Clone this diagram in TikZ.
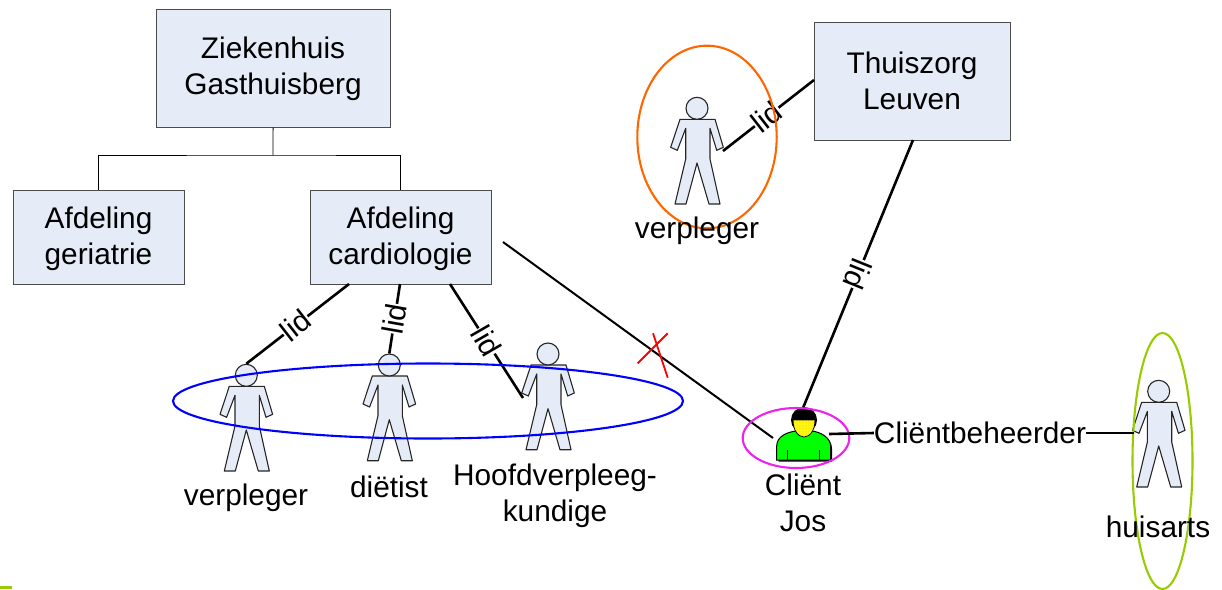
\documentclass[tikz,border=0pt]{standalone}
\usepackage{fontspec}
\setmainfont{Liberation Sans}
\usetikzlibrary{patterns}
\definecolor{boxfill}{HTML}{E6ECF7}
\definecolor{limeline}{HTML}{99CC00}
\definecolor{orangeline}{HTML}{FF6600}
\definecolor{magline}{HTML}{EE22EE}
\tikzset{
  x=1pt,y=-1pt,
  every node/.style={font=\fontsize{29.8}{35.5}\selectfont,align=center,inner sep=0pt},
  orgbox/.style={draw=black!70,line width=1.1pt,fill=boxfill,minimum width=#1,minimum height=94pt,anchor=north west},
  orgline/.style={draw=black,line width=.9pt},
  conn/.style={draw=black,line width=2.6pt},
  lidlabel/.style={fill=white,inner xsep=0pt,inner ysep=-4pt,midway},
  oval/.style={draw=#1,line width=2.1pt},
  headnode/.style={circle,draw=black!85,line width=1.1pt,fill=boxfill,minimum size=22pt},
  person/.pic={
    \draw[black!85,line width=1.1pt,fill=boxfill,line join=round]
      (-17,11) -- (18,11) -- (26.3,39) -- (19.7,42) -- (13,20) -- (13,50.7) -- (23,95.7) -- (12,95.7)
      -- (0,54.7) -- (-11,95.7) -- (-22,95.7) -- (-11.3,50.7) -- (-11.3,20) -- (-19.7,42) -- (-26.3,39) -- cycle;
  }
}
\begin{document}
\begin{tikzpicture}
\useasboundingbox (0,0) rectangle (1222,589);
\fill[white] (0,0) rectangle (1222,589);
% boxes
\node[orgbox=234pt,minimum height=118pt] (zh) at (155.5,8.5) {};
\node at (273,69) {Ziekenhuis\\Gasthuisberg};
\node[orgbox=171pt] (ger) at (12.5,189.5) {};
\node at (98.5,239) {Afdeling\\geriatrie};
\node[orgbox=181pt] (card) at (309.5,189.5) {};
\node at (400.5,239) {Afdeling\\cardiologie};
\node[orgbox=196pt,minimum height=118pt] (tz) at (813.5,21.5) {};
\node at (912,81) {Thuiszorg\\Leuven};
% org tree
\coordinate (fork) at (273,155);
\draw[orgline] (zh.south) -- (fork);
\draw[orgline] (ger.north) |- (fork) -| (card.north);
% persons
\foreach \n/\px/\py in {1/246.3/375.3,2/389.3/365,3/548/354,4/697/108.3,5/1158.7/391.3}{
  \path (\px,\py) pic {person};
  \node[headnode] (h\n) at (\px,\py) {};
}
% free ends
\coordinate (c1) at (349,284);
\coordinate (c2) at (400,284);
\coordinate (c3) at (450,284);
\coordinate (e3) at (523,398);
\coordinate (c4) at (814,80);
\coordinate (e4) at (723,151);
\coordinate (c5) at (913,140);
\coordinate (e5) at (803,408);
\coordinate (c6) at (503,242);
\coordinate (e6) at (773,438);
\coordinate (c7) at (829,434);
\coordinate (e7) at (1134,433);
% connectors
\draw[conn] (c1) -- (h1.north) node[lidlabel,rotate=38,pos=.52] {lid};
\draw[conn] (c2) -- (h2.north) node[lidlabel,rotate=80,pos=.5] {lid};
\draw[conn] (c3) -- (e3) node[lidlabel,rotate=-60,pos=.5] {lid};
\draw[conn] (c4) -- (e4) node[lidlabel,rotate=38,pos=.52] {lid};
\draw[conn] (c5) -- (e5) node[lidlabel,rotate=248,pos=.5] {lid};
\draw[draw=black,line width=2pt] (c6) -- (e6);
% red cross
\coordinate (x1) at (637.7,363.3);
\coordinate (x2) at (667.7,333.3);
\coordinate (x3) at (653,333.3);
\coordinate (x4) at (667.7,377.7);
\draw[red,line width=1.8pt] (x1) -- (x2) (x3) -- (x4);
% client icon
\fill[black] (778.5,461.5) -- (778.5,447) .. controls (778.5,436) and (790,433) .. (797,432) -- (812,432) .. controls (822,433) and (832,438) .. (832,449) -- (832,461.5) -- cycle;
\draw[black,line width=1pt,fill=green] (776.7,460) -- (776.7,446) .. controls (776.7,436) and (788,432) .. (796,431) -- (812,431) .. controls (820,432) and (830.7,437) .. (830.7,447) -- (830.7,460) -- cycle;
\draw[black,line width=.8pt] (787,450) -- (787,460) (819,450) -- (819,460);
\fill[black] (804,420) circle[radius=13];
\draw[black,line width=.8pt,fill=yellow] (793,420) -- (815,420) .. controls (815,430) and (810,437) .. (804,437) .. controls (798,437) and (793,430) .. (793,420) -- cycle;
\fill[pattern=dots,pattern color=white] (793,420) -- (815,420) .. controls (815,430) and (810,437) .. (804,437) .. controls (798,437) and (793,430) .. (793,420) -- cycle;
% ovals
\draw[oval=blue] (428,401) ellipse[x radius=255,y radius=37.5];
\draw[oval=orangeline] (707,137) ellipse[x radius=69.7,y radius=91.3];
\draw[oval=magline] (796,438) ellipse[x radius=53.3,y radius=30];
\draw[oval=limeline] (1162.5,461) ellipse[x radius=30,y radius=128];
% client manager
\node[fill=white,inner xsep=0pt,inner ysep=2pt] (cb) at (980,433) {Cliëntbeheerder};
\draw[conn] (c7) -- (cb.west);
\draw[conn] (cb.east) -- (e7);
% labels
\node (t1) at (246,498) {verpleger};
\node (t2) at (389,487) {diëtist};
\node (t3) at (555,496) {Hoofdverpleeg-\\kundige};
\node (t4) at (697,231) {verpleger};
\node (t5) at (803,503) {Cliënt\\Jos};
\node (t6) at (1158,527) {huisarts};
% bottom-left mark
\fill[limeline] (0,586) rectangle (12,589);
\end{tikzpicture}
\end{document}
